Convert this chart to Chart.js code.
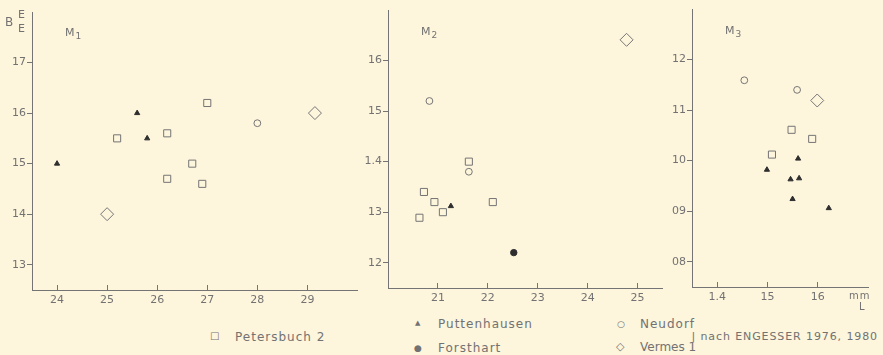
<!DOCTYPE html>
<html lang="de">
<head>
<meta charset="UTF-8">
<title>M1 M2 M3</title>
<script src="https://cdn.jsdelivr.net/npm/chart.js@4/dist/chart.umd.min.js"></script>
<style>
  body {
    margin: 0;
    background: #fdf5dc;
    width: 883px;
    height: 355px;
    position: relative;
    overflow: hidden;
    font-family: "DejaVu Sans", sans-serif;
    color: #727272;
  }
  canvas { position: absolute; top: 0; }
  #c1 { left: 0; }
  #c2 { left: 350px; }
  #c3 { left: 655px; }
  .t {
    position: absolute;
    font-size: 12px;
    letter-spacing: 1px;
    white-space: nowrap;
    line-height: 1;
  }
  .s { font-size: 11px; letter-spacing: 0; }
</style>
</head>
<body>
<canvas id="c1" width="365" height="312"></canvas>
<canvas id="c2" width="320" height="312"></canvas>
<canvas id="c3" width="228" height="312"></canvas>

<div class="t" style="left:5px;top:16px;font-size:12px">B</div>
<div class="t s" style="left:18px;top:9px">E</div>
<div class="t s" style="left:18px;top:23px">E</div>

<div class="t" style="left:65px;top:27px;font-size:11px">M<sub style="font-size:9px">1</sub></div>
<div class="t" style="left:421px;top:26px;font-size:11px">M<sub style="font-size:9px">2</sub></div>
<div class="t" style="left:725px;top:25px;font-size:11px">M<sub style="font-size:9px">3</sub></div>

<div class="t" style="left:849px;top:291px;font-size:10px">mm</div>
<div class="t" style="left:859px;top:302px;font-size:10px">L</div>

<div class="t" style="left:210px;top:331px;font-size:10px">□</div>
<div class="t" style="left:235px;top:331px">Petersbuch 2</div>
<div class="t" style="left:415px;top:320px;font-size:7px">▲</div>
<div class="t" style="left:438px;top:318px">Puttenhausen</div>
<div class="t" style="left:414px;top:344px;font-size:9px">●</div>
<div class="t" style="left:438px;top:342px">Forsthart</div>
<div class="t" style="left:617px;top:320px;font-size:9px">○</div>
<div class="t" style="left:640px;top:318px">Neudorf</div>
<div class="t" style="left:616px;top:341px;font-size:11px">◇</div>
<div class="t" style="left:640px;top:341px;letter-spacing:0">Vermes 1</div>
<div class="t" style="right:5px;top:331px;font-size:11px;letter-spacing:0.9px">| nach ENGESSER 1976, 1980</div>

<script>
// tick positions and the labels as printed
var m1XTicks = [2.4, 2.5, 2.6, 2.7, 2.8, 2.9]
var m1XLabels = ['24', '25', '26', '27', '28', '29']
var m1YTicks = [1.3, 1.4, 1.5, 1.6, 1.7]
var m1YLabels = ['13', '14', '15', '16', '17']

var m2XTicks = [2.1, 2.2, 2.3, 2.4, 2.5]
var m2XLabels = ['21', '22', '23', '24', '25']
var m2YTicks = [1.2, 1.3, 1.4, 1.5, 1.6]
var m2YLabels = ['12', '13', '1.4', '15', '16']

var m3XTicks = [1.4, 1.5, 1.6]
var m3XLabels = ['1.4', '15', '16']
var m3YTicks = [0.8, 0.9, 1.0, 1.1, 1.2]
var m3YLabels = ['08', '09', '10', '11', '12']

// [L, B/E] in mm
var m1Petersbuch = [[2.52, 1.55], [2.62, 1.56], [2.70, 1.62], [2.67, 1.50], [2.62, 1.47], [2.69, 1.46]]
var m1Puttenhausen = [[2.40, 1.50], [2.56, 1.60], [2.58, 1.55]]
var m1Neudorf = [[2.80, 1.58]]
var m1Vermes = [[2.50, 1.40], [2.915, 1.60]]

var m2Petersbuch = [[2.162, 1.40], [2.072, 1.34], [2.093, 1.32], [2.11, 1.30], [2.063, 1.289], [2.21, 1.32]]
var m2Puttenhausen = [[2.126, 1.312]]
var m2Forsthart = [[2.252, 1.22]]
var m2Neudorf = [[2.083, 1.52], [2.162, 1.38]]
var m2Vermes = [[2.478, 1.641]]

var m3Petersbuch = [[1.548, 1.061], [1.589, 1.043], [1.509, 1.012]]
var m3Puttenhausen = [[1.499, 0.982], [1.561, 1.004], [1.546, 0.963], [1.563, 0.965], [1.55, 0.924], [1.622, 0.906]]
var m3Neudorf = [[1.454, 1.159], [1.559, 1.14]]
var m3Vermes = [[1.599, 1.119]]

var ink = '#747474'
var dark = '#2e2e2e'

var styles = {
  petersbuch: { pointStyle: 'rect', pointRadius: 5, backgroundColor: 'rgba(0,0,0,0)', borderColor: ink },
  puttenhausen: { pointStyle: 'triangle', pointRadius: 3, backgroundColor: dark, borderColor: dark },
  forsthart: { pointStyle: 'circle', pointRadius: 3.2, backgroundColor: dark, borderColor: dark },
  neudorf: { pointStyle: 'circle', pointRadius: 3.4, backgroundColor: 'rgba(0,0,0,0)', borderColor: ink },
  vermes: { pointStyle: 'rectRot', pointRadius: 6.5, backgroundColor: 'rgba(0,0,0,0)', borderColor: ink }
}

function ds(points, kind) {
  var s = styles[kind]
  return {
    data: points.map(p => ({ x: p[0], y: p[1] })),
    pointStyle: s.pointStyle,
    pointRadius: s.pointRadius,
    backgroundColor: s.backgroundColor,
    borderColor: s.borderColor,
    borderWidth: 1,
    clip: false
  }
}

function panel(id, datasets, p) {
  new Chart(document.getElementById(id), {
    type: 'scatter',
    data: { datasets: datasets },
    options: {
      responsive: false,
      animation: false,
      layout: { padding: { top: p.top, right: p.right, left: 0, bottom: 0 } },
      plugins: { legend: { display: false }, tooltip: { enabled: false } },
      scales: {
        x: {
          type: 'linear',
          min: p.xMin, max: p.xMax,
          afterBuildTicks: s => { s.ticks = p.xTicks.map(v => ({ value: v })) },
          afterFit: s => { s.height = p.xH },
          grid: { drawOnChartArea: false, drawTicks: true, tickLength: -5, color: ink },
          border: { display: true, color: ink, width: 1 },
          ticks: {
            padding: 9, color: '#727272', font: { family: 'DejaVu Sans', size: 11 },
            maxRotation: 0, autoSkip: false,
            callback: (v, i) => p.xLabels[i]
          }
        },
        y: {
          type: 'linear',
          min: p.yMin, max: p.yMax,
          afterBuildTicks: s => { s.ticks = p.yTicks.map(v => ({ value: v })) },
          afterFit: s => { s.width = p.yW },
          grid: { drawOnChartArea: false, drawTicks: true, tickLength: 5, color: ink },
          border: { display: true, color: ink, width: 1 },
          ticks: {
            padding: 1, color: '#727272', font: { family: 'DejaVu Sans', size: 11 },
            autoSkip: false,
            callback: (v, i) => p.yLabels[i]
          }
        }
      }
    }
  })
}

panel('c1', [
  ds(m1Petersbuch, 'petersbuch'),
  ds(m1Puttenhausen, 'puttenhausen'),
  ds(m1Neudorf, 'neudorf'),
  ds(m1Vermes, 'vermes')
], { xMin: 2.35, xMax: 3.0, yMin: 1.25, yMax: 1.80, xTicks: m1XTicks, xLabels: m1XLabels,
     yTicks: m1YTicks, yLabels: m1YLabels, top: 12, right: 3, xH: 22, yW: 32 })

panel('c2', [
  ds(m2Petersbuch, 'petersbuch'),
  ds(m2Puttenhausen, 'puttenhausen'),
  ds(m2Forsthart, 'forsthart'),
  ds(m2Neudorf, 'neudorf'),
  ds(m2Vermes, 'vermes')
], { xMin: 2.0, xMax: 2.55, yMin: 1.15, yMax: 1.70, xTicks: m2XTicks, xLabels: m2XLabels,
     yTicks: m2YTicks, yLabels: m2YLabels, top: 10, right: 3, xH: 24, yW: 38 })

panel('c3', [
  ds(m3Petersbuch, 'petersbuch'),
  ds(m3Puttenhausen, 'puttenhausen'),
  ds(m3Neudorf, 'neudorf'),
  ds(m3Vermes, 'vermes')
], { xMin: 1.35, xMax: 1.70, yMin: 0.75, yMax: 1.30, xTicks: m3XTicks, xLabels: m3XLabels,
     yTicks: m3YTicks, yLabels: m3YLabels, top: 9, right: 15, xH: 25, yW: 37 })
</script>
</body>
</html>
